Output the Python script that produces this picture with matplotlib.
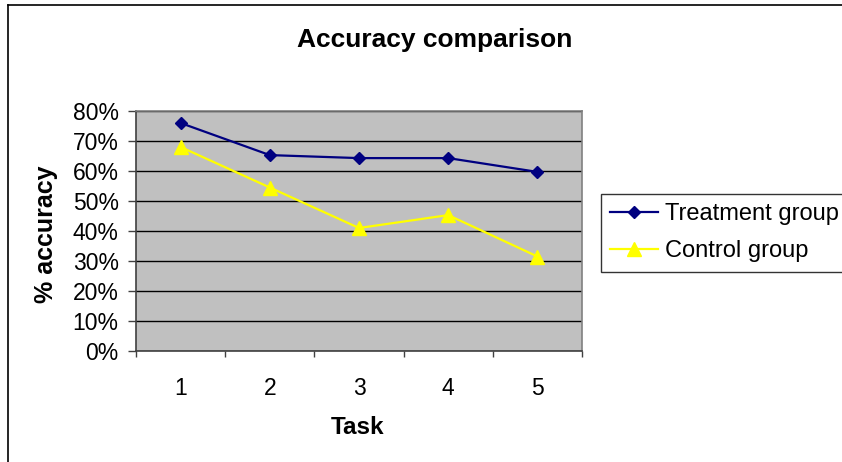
import matplotlib as mpl
from matplotlib import pyplot as plt
from matplotlib.lines import Line2D
from matplotlib.ticker import FuncFormatter

mpl.rc('font', family='Liberation Sans')

# Data
tasks = [1, 2, 3, 4, 5]
treatment = [0.76, 0.653, 0.643, 0.643, 0.597]
control = [0.68, 0.545, 0.41, 0.453, 0.315]
y_ticks = [0.0, 0.1, 0.2, 0.3, 0.4, 0.5, 0.6, 0.7, 0.8]

W, H = 842, 462
fig = plt.figure(figsize=(W / 100, H / 100), dpi=100)
fig.patch.set_facecolor('white')

# Chart area border (left and top edges visible)
fig.add_artist(Line2D([8 / W, 8 / W], [0, 1 - 5 / H], transform=fig.transFigure, color='black', lw=1.2))
fig.add_artist(Line2D([8 / W, 1], [1 - 5 / H, 1 - 5 / H], transform=fig.transFigure, color='black', lw=1.2))

ax = fig.add_axes([136 / W, 1 - 351 / H, (582 - 136) / W, (351 - 111) / H])
ax.set_facecolor('#C0C0C0')

treat_line, = ax.plot(tasks, treatment, color='#000080', lw=1.6, marker='D', markersize=6.5,
                      label="Treatment group", zorder=3)
ctrl_line, = ax.plot(tasks, control, color='#FFFF00', lw=1.6, marker='^', markersize=9.5,
                     label="Control group", zorder=3)

ax.set_xlim(0.5, 5.5)
ax.set_ylim(0, 0.8)

# horizontal gridlines
ax.set_yticks(y_ticks)
ax.yaxis.set_major_formatter(FuncFormatter(lambda v, p: f"{int(round(v * 100))}%"))
ax.grid(axis='y', color='black', lw=1.0)
ax.set_axisbelow(True)

# category ticks between tasks, labels at the tasks
ax.set_xticks([0.5, 1.5, 2.5, 3.5, 4.5, 5.5])
ax.set_xticklabels([])
ax.set_xticks(tasks, minor=True)
ax.set_xticklabels([str(t) for t in tasks], minor=True)
ax.tick_params(axis='x', which='major', length=4, width=1, color='#404040')
ax.tick_params(axis='x', which='minor', length=0, pad=19, labelsize=16.5)
ax.tick_params(axis='y', length=6, width=1, color='#404040', pad=6.5, labelsize=16.5)

for s in ax.spines.values():
    s.set_color('#808080')
    s.set_linewidth(1.2)
ax.spines['left'].set_color('#404040')
ax.spines['bottom'].set_color('#404040')

fig.text(434.5 / W, 1 - 40 / H, "Accuracy comparison", fontsize=19, fontweight='bold',
         ha='center', va='center')
fig.text(46.5 / W, 1 - 234 / H, "% accuracy", fontsize=18, fontweight='bold',
         ha='center', va='center', rotation=90)
fig.text(358 / W, 1 - 427 / H, "Task", fontsize=17.5, fontweight='bold', ha='center', va='center')

leg = fig.legend(handles=[treat_line, ctrl_line], loc='upper left',
                 bbox_to_anchor=(601 / W, 1 - 194 / H), fontsize=17, frameon=True,
                 fancybox=False, edgecolor='black', borderaxespad=0, borderpad=0.4,
                 handlelength=2.0, handletextpad=0.3, labelspacing=0.62)
leg.get_frame().set_linewidth(1.0)

fig.savefig("out.png", dpi=100, facecolor='white')
